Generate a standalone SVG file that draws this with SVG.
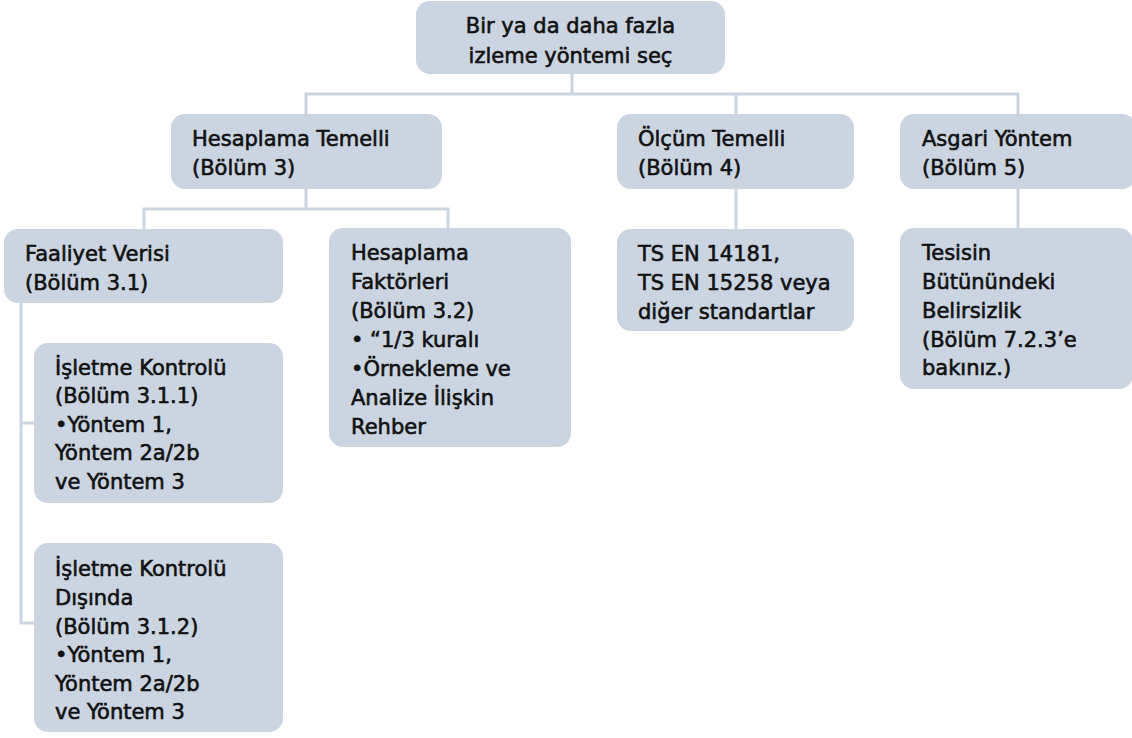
<svg xmlns="http://www.w3.org/2000/svg" width="1132" height="738" viewBox="0 0 1132 738">
<style>
.box{fill:#cad5e1;}
.t{font-family:"DejaVu Sans","Liberation Sans",sans-serif;font-size:21px;fill:#111111;stroke:#111111;stroke-width:0.6;}
.c{fill:none;stroke:#cad5e1;stroke-width:3;}
</style>
<rect width="1132" height="738" fill="#ffffff"/>
<g id="connectors">
<path class="c" d="M572,74 V94"/>
<path class="c" d="M306,114 V94 H1018 V114"/>
<path class="c" d="M736,94 V114"/>
<path class="c" d="M306,189 V209"/>
<path class="c" d="M144,229 V209 H448 V229"/>
<path class="c" d="M736,189 V229"/>
<path class="c" d="M1018,189 V229"/>
<path class="c" d="M21,303 V623 H34"/>
<path class="c" d="M21,423 H34"/>
</g>
<g id="n-top">
<rect class="box" x="416" y="1" width="309" height="73" rx="14"/>
<text class="t" text-anchor="middle"><tspan x="570.5" y="33">Bir ya da daha fazla</tspan><tspan x="570.5" y="63">izleme yöntemi seç</tspan></text>
</g>
<g id="n-hesaplama-temelli">
<rect class="box" x="171" y="114" width="271" height="75" rx="14"/>
<text class="t"><tspan x="192" y="146">Hesaplama Temelli</tspan><tspan x="192" y="175">(Bölüm 3)</tspan></text>
</g>
<g id="n-olcum-temelli">
<rect class="box" x="617" y="114" width="237" height="75" rx="14"/>
<text class="t"><tspan x="638" y="146">Ölçüm Temelli</tspan><tspan x="638" y="175">(Bölüm 4)</tspan></text>
</g>
<g id="n-asgari">
<rect class="box" x="900" y="114" width="236" height="75" rx="14"/>
<text class="t"><tspan x="922" y="146">Asgari Yöntem</tspan><tspan x="922" y="175">(Bölüm 5)</tspan></text>
</g>
<g id="n-faaliyet">
<rect class="box" x="4" y="229" width="279" height="74" rx="14"/>
<text class="t"><tspan x="25" y="261">Faaliyet Verisi</tspan><tspan x="25" y="290">(Bölüm 3.1)</tspan></text>
</g>
<g id="n-faktorler">
<rect class="box" x="329" y="228" width="242" height="219" rx="14"/>
<text class="t"><tspan x="351" y="260">Hesaplama</tspan><tspan x="351" y="289">Faktörleri</tspan><tspan x="351" y="318">(Bölüm 3.2)</tspan><tspan x="351" y="347">• “1/3 kuralı</tspan><tspan x="351" y="376">•Örnekleme ve</tspan><tspan x="351" y="405">Analize İlişkin</tspan><tspan x="351" y="434">Rehber</tspan></text>
</g>
<g id="n-ts-en">
<rect class="box" x="617" y="229" width="237" height="102" rx="14"/>
<text class="t"><tspan x="638" y="261">TS EN 14181,</tspan><tspan x="638" y="290">TS EN 15258 veya</tspan><tspan x="638" y="319">diğer standartlar</tspan></text>
</g>
<g id="n-tesisin">
<rect class="box" x="900" y="228" width="233" height="161" rx="14"/>
<text class="t"><tspan x="922" y="260">Tesisin</tspan><tspan x="922" y="289">Bütünündeki</tspan><tspan x="922" y="318">Belirsizlik</tspan><tspan x="922" y="347">(Bölüm 7.2.3’e</tspan><tspan x="922" y="375">bakınız.)</tspan></text>
</g>
<g id="n-isletme-1">
<rect class="box" x="34" y="343" width="249" height="160" rx="14"/>
<text class="t"><tspan x="55" y="375">İşletme Kontrolü</tspan><tspan x="55" y="403">(Bölüm 3.1.1)</tspan><tspan x="55" y="432">•Yöntem 1,</tspan><tspan x="55" y="460">Yöntem 2a/2b</tspan><tspan x="55" y="489">ve Yöntem 3</tspan></text>
</g>
<g id="n-isletme-2">
<rect class="box" x="34" y="543" width="249" height="189" rx="14"/>
<text class="t"><tspan x="55" y="576">İşletme Kontrolü</tspan><tspan x="55" y="605">Dışında</tspan><tspan x="55" y="634">(Bölüm 3.1.2)</tspan><tspan x="55" y="662">•Yöntem 1,</tspan><tspan x="55" y="691">Yöntem 2a/2b</tspan><tspan x="55" y="719">ve Yöntem 3</tspan></text>
</g>
</svg>
